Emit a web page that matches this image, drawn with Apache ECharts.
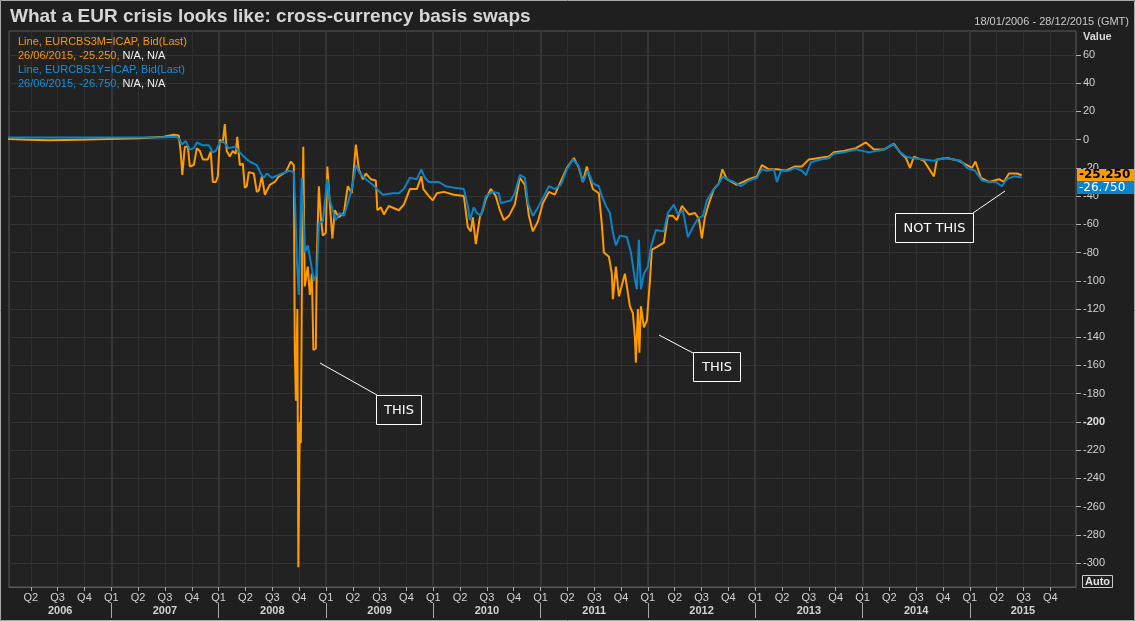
<!DOCTYPE html>
<html>
<head>
<meta charset="utf-8">
<script src="https://cdn.jsdelivr.net/npm/echarts@6/dist/echarts.min.js"></script>
<style>
html,body{margin:0;padding:0;background:#1f1f1f;}
#chart{width:1135px;height:621px;}
</style>
</head>
<body>
<div id="chart"></div>
<script>
// ---- data (x = decimal year, y = basis in bp) ----
const eur3m = [[2006.035,0.5],[2006.231,0],[2006.418,-0.5],[2006.697,0],[2006.977,0.5],[2007.256,1],[2007.489,2],[2007.582,3.5],[2007.629,3],[2007.648,-10],[2007.662,-25],[2007.685,-5],[2007.713,-5],[2007.732,-19],[2007.769,-18],[2007.797,-6],[2007.825,-8],[2007.853,-14],[2007.899,-14],[2007.927,-8.5],[2007.946,-30],[2007.974,-30],[2007.993,-26],[2008.011,0],[2008.039,-2],[2008.058,11],[2008.076,-8],[2008.104,-12],[2008.132,-8],[2008.160,-10],[2008.174,2],[2008.198,-18],[2008.226,-17],[2008.244,-34],[2008.263,-33],[2008.281,-23],[2008.328,-24],[2008.356,-37],[2008.375,-36],[2008.403,-26],[2008.431,-39],[2008.449,-38],[2008.477,-32],[2008.524,-30],[2008.561,-26],[2008.626,-23],[2008.673,-15.5],[2008.701,-18],[2008.710,-150],[2008.720,-185],[2008.734,-120],[2008.743,-303],[2008.757,-200],[2008.766,-215],[2008.780,-60],[2008.789,-5],[2008.803,-104],[2008.831,-90],[2008.850,-110],[2008.869,-95],[2008.883,-149],[2008.906,-148],[2008.915,-85],[2008.934,-33],[2008.953,-55],[2008.971,-68],[2008.999,-66],[2009.013,-19],[2009.036,-45],[2009.060,-70],[2009.083,-50],[2009.120,-55],[2009.167,-52],[2009.204,-33],[2009.241,-38],[2009.279,-3.5],[2009.307,-21],[2009.344,-28],[2009.372,-24],[2009.418,-28],[2009.465,-29],[2009.479,-50],[2009.512,-48],[2009.540,-53],[2009.586,-47],[2009.679,-50],[2009.726,-46],[2009.782,-35],[2009.847,-35],[2009.889,-26],[2009.908,-35],[2009.959,-40],[2009.996,-43],[2010.034,-38],[2010.099,-37],[2010.192,-39],[2010.285,-40],[2010.322,-62],[2010.350,-65],[2010.369,-55],[2010.397,-74],[2010.434,-55],[2010.462,-50],[2010.490,-42],[2010.537,-35],[2010.583,-40],[2010.621,-50],[2010.658,-57],[2010.705,-54],[2010.760,-46],[2010.807,-27],[2010.854,-32],[2010.891,-54],[2010.928,-65],[2010.975,-58],[2011.021,-45],[2011.077,-37],[2011.133,-39],[2011.180,-31],[2011.245,-20],[2011.310,-13],[2011.357,-20],[2011.394,-30],[2011.431,-19],[2011.487,-35],[2011.543,-38],[2011.571,-60],[2011.590,-80],[2011.637,-83],[2011.664,-95],[2011.674,-113],[2011.702,-90],[2011.730,-111],[2011.786,-95],[2011.832,-118],[2011.860,-123],[2011.879,-140],[2011.888,-158],[2011.907,-120],[2011.921,-151],[2011.935,-118],[2011.963,-133],[2011.991,-128],[2012.019,-100],[2012.037,-78],[2012.084,-76],[2012.149,-73],[2012.186,-54],[2012.233,-54],[2012.270,-57],[2012.317,-47],[2012.382,-53],[2012.438,-52],[2012.475,-56],[2012.503,-70],[2012.531,-55],[2012.569,-45],[2012.615,-35],[2012.662,-31],[2012.694,-21],[2012.736,-28],[2012.829,-32],[2012.941,-28],[2013.016,-26],[2013.062,-18],[2013.128,-21],[2013.202,-21],[2013.286,-22],[2013.370,-19],[2013.435,-19],[2013.500,-14],[2013.594,-13],[2013.687,-12],[2013.733,-9],[2013.827,-8],[2013.938,-6],[2014.032,-2],[2014.106,-7],[2014.199,-7],[2014.293,-3],[2014.349,-9],[2014.404,-13],[2014.442,-20],[2014.479,-12],[2014.572,-15],[2014.665,-26],[2014.693,-14],[2014.787,-13],[2014.898,-15],[2014.973,-18],[2015.020,-20],[2015.052,-15.5],[2015.103,-27],[2015.178,-30],[2015.271,-28],[2015.318,-30],[2015.364,-24],[2015.439,-24],[2015.483,-25.25]];

const eur1y = [[2006.035,1.5],[2006.418,1.5],[2006.884,1.5],[2007.443,1.6],[2007.610,2],[2007.638,0],[2007.657,-3.5],[2007.694,-1],[2007.732,-7],[2007.769,-6],[2007.797,-2],[2007.853,-4],[2007.909,-4],[2007.946,-9],[2007.974,-8],[2008.011,-2],[2008.039,-1],[2008.095,-6],[2008.151,-5],[2008.198,-9],[2008.235,-12],[2008.263,-14],[2008.300,-16],[2008.356,-18],[2008.393,-24],[2008.421,-27],[2008.449,-24],[2008.496,-27],[2008.561,-25],[2008.654,-22],[2008.701,-23],[2008.715,-50],[2008.729,-85],[2008.747,-110],[2008.761,-64],[2008.775,-27],[2008.785,-45],[2008.803,-80],[2008.831,-75],[2008.859,-87],[2008.887,-100],[2008.915,-95],[2008.934,-59],[2008.971,-58],[2009.013,-28],[2009.036,-43],[2009.064,-50],[2009.092,-57],[2009.130,-52],[2009.167,-54],[2009.204,-45],[2009.241,-35],[2009.279,-18],[2009.316,-24],[2009.372,-28],[2009.437,-32],[2009.474,-35],[2009.530,-39],[2009.624,-38],[2009.679,-38],[2009.726,-35],[2009.782,-27],[2009.847,-28],[2009.889,-21],[2009.922,-27],[2009.959,-30],[2010.052,-30],[2010.117,-33],[2010.192,-34],[2010.285,-35],[2010.322,-47],[2010.341,-57],[2010.378,-48],[2010.406,-52],[2010.444,-54],[2010.490,-40],[2010.555,-37],[2010.611,-38],[2010.630,-45],[2010.677,-44],[2010.723,-43],[2010.760,-38],[2010.807,-25],[2010.854,-27],[2010.882,-45],[2010.928,-54],[2010.984,-47],[2011.031,-40],[2011.077,-33],[2011.133,-35],[2011.189,-32],[2011.245,-21],[2011.301,-14],[2011.357,-19],[2011.394,-30],[2011.441,-22],[2011.487,-31],[2011.543,-33],[2011.571,-40],[2011.609,-47],[2011.646,-52],[2011.674,-66],[2011.702,-75],[2011.739,-68],[2011.804,-69],[2011.842,-80],[2011.879,-99],[2011.897,-106],[2011.916,-71],[2011.935,-106],[2011.963,-95],[2012.000,-90],[2012.028,-76],[2012.075,-64],[2012.149,-65],[2012.186,-52],[2012.242,-46],[2012.280,-53],[2012.326,-50],[2012.373,-69],[2012.419,-62],[2012.466,-56],[2012.513,-54],[2012.550,-43],[2012.606,-36],[2012.662,-31],[2012.699,-26],[2012.736,-28],[2012.802,-30],[2012.867,-33],[2012.941,-29],[2013.016,-27],[2013.062,-21],[2013.109,-22],[2013.174,-21],[2013.202,-30],[2013.240,-22],[2013.314,-22],[2013.370,-20],[2013.435,-22],[2013.473,-25],[2013.519,-16],[2013.612,-14],[2013.687,-13],[2013.733,-10],[2013.827,-9],[2013.938,-7],[2014.060,-9],[2014.199,-7],[2014.283,-3],[2014.339,-8],[2014.404,-12],[2014.460,-13],[2014.572,-14],[2014.665,-15],[2014.759,-13],[2014.852,-14],[2014.917,-15],[2014.973,-20],[2015.048,-22],[2015.113,-29],[2015.178,-30],[2015.243,-30],[2015.299,-33],[2015.346,-28],[2015.411,-26],[2015.483,-26.75]];

const yTickValues = [-300,-280,-260,-240,-220,-200,-180,-160,-140,-120,-100,-80,-60,-40,-20,0,20,40,60];
const quarterLabels = ['Q1','Q2','Q3','Q4'];
const yearLabels = ['2006','2007','2008','2009','2010','2011','2012','2013','2014','2015'];
const xMin = 2006.047;   // 18/01/2006
const xMax = 2015.989;   // 28/12/2015
const yMin = -317, yMax = 77;

// ---- build axis helpers ----
const quarterTicks = [];
yearLabels.forEach(y => { for (let q = 0; q < 4; q++) { const v = +y + q / 4; if (v > xMin && v < xMax) quarterTicks.push(v); } });
const yearStarts = yearLabels.map(Number).filter(v => v > xMin && v < xMax);
const yearMids = yearLabels.map(y => { const a = Math.max(+y, xMin), b = Math.min(+y + 1, xMax); return (a + b) / 2; });

const FONT = 'Liberation Sans, Arial, sans-serif';
const ORANGE = '#ff9a00';
const BLUE = '#0a84c8';
const TXT = '#d2d2d2';

const chart = echarts.init(document.getElementById('chart'), null, {renderer: 'canvas'});

const option = {
  backgroundColor: '#1f1f1f',
  animation: false,
  grid: {left: 9, right: 59, top: 31, bottom: 34, show: true, backgroundColor: '#222222', borderColor: '#5a5a5a', borderWidth: 1, containLabel: false, outerBoundsMode: 'none'},
  xAxis: [
    {
      type: 'value', min: xMin, max: xMax, position: 'bottom',
      axisLine: {show: true, onZero: false, lineStyle: {color: '#5a5a5a'}},
      axisTick: {show: true, customValues: quarterTicks, length: 4, lineStyle: {color: '#b0b0b0'}},
      axisLabel: {customValues: quarterTicks, color: TXT, fontSize: 11, fontFamily: FONT, margin: 5,
        formatter: v => quarterLabels[Math.round(v * 4) % 4]},
      splitLine: {show: true, lineStyle: {color: '#2e2e2e', width: 1}}
    },
    {
      type: 'value', min: xMin, max: xMax, position: 'bottom', offset: 16,
      axisLine: {show: false, onZero: false},
      axisTick: {show: true, customValues: yearStarts, length: 15, lineStyle: {color: '#a8a8a8'}},
      axisLabel: {customValues: yearMids, color: TXT, fontSize: 11, fontWeight: 'bold', fontFamily: FONT, margin: 2,
        formatter: v => yearLabels[Math.floor(v) - 2006]},
      splitLine: {show: true, lineStyle: {color: '#353535', width: 2}}
    }
  ],
  yAxis: {
    type: 'value', position: 'right', min: yMin, max: yMax,
    axisLine: {show: false, onZero: false},
    axisTick: {show: true, customValues: yTickValues, length: 5, lineStyle: {color: '#b0b0b0'}},
    axisLabel: {customValues: yTickValues, color: TXT, fontSize: 11, fontFamily: FONT, margin: 7,
      formatter: v => v === -200 ? '{b|-200}' : String(v),
      rich: {b: {fontWeight: 'bold', fontSize: 11, color: '#e0e0e0', fontFamily: FONT}}},
    splitLine: {show: true, lineStyle: {color: '#333333', width: 1}}
  },
  series: [
    {name: 'EURCBS3M=ICAP', type: 'line', data: eur3m, showSymbol: false, clip: true,
      lineStyle: {color: ORANGE, width: 2}, itemStyle: {color: ORANGE}, z: 3},
    {name: 'EURCBS1Y=ICAP', type: 'line', data: eur1y, showSymbol: false, clip: true,
      lineStyle: {color: BLUE, width: 2}, itemStyle: {color: BLUE}, z: 4}
  ]
};
chart.setOption(option);

const last3m = eur3m[eur3m.length - 1][1];
const last1y = eur1y[eur1y.length - 1][1];
const fmt = v => v.toFixed(3);
const yo = chart.convertToPixel({yAxisIndex: 0}, last3m);
const lastDate = '26/06/2015';

const line = (x1, y1, x2, y2) => ({type: 'line', shape: {x1, y1, x2, y2}, style: {stroke: '#ffffff', lineWidth: 1}, z: 50});
const box = (x, y, w, h, label) => ([
  {type: 'rect', shape: {x: x + 0.5, y: y + 0.5, width: w, height: h}, style: {fill: '#222222', stroke: '#ffffff', lineWidth: 1}, z: 50},
  {type: 'text', x: x + w / 2 + 0.5, y: y + h / 2 + 1, style: {text: label, fill: '#ffffff', font: '13px DejaVu Sans, sans-serif', align: 'center', verticalAlign: 'middle'}, z: 51}
]);

chart.setOption({
  graphic: [
    {type: 'rect', shape: {x: 0.5, y: 0.5, width: 1134, height: 620}, style: {fill: 'none', stroke: '#a8a8a8', lineWidth: 1}, z: 100},
    {type: 'text', x: 10, y: 17, style: {text: 'What a EUR crisis looks like: cross-currency basis swaps', fill: '#d6d6d6', font: 'bold 19px ' + FONT, verticalAlign: 'middle'}, z: 20},
    {type: 'text', x: 1129, y: 22, style: {text: '18/01/2006 - 28/12/2015 (GMT)', fill: '#c8c8c8', font: '11px ' + FONT, align: 'right', verticalAlign: 'middle'}, z: 20},
    {type: 'text', x: 1083, y: 37, style: {text: 'Value', fill: '#d8d8d8', font: 'bold 11px ' + FONT, verticalAlign: 'middle'}, z: 20},
    {type: 'text', x: 18, y: 42, style: {text: 'Line, EURCBS3M=ICAP, Bid(Last)', fill: '#f39a14', font: '11px ' + FONT, verticalAlign: 'middle'}, z: 20},
    {type: 'text', x: 18, y: 56, style: {text: '{o|' + lastDate + ', ' + fmt(last3m) + ', }{w|N/A, N/A}', font: '11px ' + FONT, verticalAlign: 'middle',
      rich: {o: {fill: '#f39a14', font: '11px ' + FONT}, w: {fill: '#f0f0f0', font: '11px ' + FONT}}}, z: 20},
    {type: 'text', x: 18, y: 70, style: {text: 'Line, EURCBS1Y=ICAP, Bid(Last)', fill: '#1a8fd8', font: '11px ' + FONT, verticalAlign: 'middle'}, z: 20},
    {type: 'text', x: 18, y: 84, style: {text: '{o|' + lastDate + ', ' + fmt(last1y) + ', }{w|N/A, N/A}', font: '11px ' + FONT, verticalAlign: 'middle',
      rich: {o: {fill: '#1a8fd8', font: '11px ' + FONT}, w: {fill: '#f0f0f0', font: '11px ' + FONT}}}, z: 20},
    // last value boxes on the axis
    {type: 'rect', shape: {x: 1077, y: Math.round(yo) - 6, width: 57, height: 12}, style: {fill: ORANGE}, z: 30},
    {type: 'text', x: 1079, y: Math.round(yo), style: {text: fmt(last3m), fill: '#000000', font: 'bold 12px DejaVu Sans, sans-serif', verticalAlign: 'middle'}, z: 31},
    {type: 'rect', shape: {x: 1077, y: Math.round(yo) + 6, width: 57, height: 13}, style: {fill: BLUE}, z: 30},
    {type: 'text', x: 1079, y: Math.round(yo) + 12.5, style: {text: fmt(last1y), fill: '#ffffff', font: '12px DejaVu Sans, sans-serif', verticalAlign: 'middle'}, z: 31},
    // Auto button
    {type: 'rect', shape: {x: 1082.5, y: 575.5, width: 30, height: 12}, style: {fill: '#1f1f1f', stroke: '#c8c8c8', lineWidth: 1}, z: 30},
    {type: 'text', x: 1097.5, y: 582, style: {text: 'Auto', fill: '#e0e0e0', font: 'bold 11px ' + FONT, align: 'center', verticalAlign: 'middle'}, z: 31},
    // annotations
    line(320, 363, 377, 395),
    ...box(376, 395, 45, 29, 'THIS'),
    line(659, 335, 693, 353),
    ...box(693, 352, 47, 29, 'THIS'),
    line(1005, 191, 973, 213),
    ...box(895, 213, 78, 29, 'NOT THIS')
  ]
});
</script>
</body>
</html>
